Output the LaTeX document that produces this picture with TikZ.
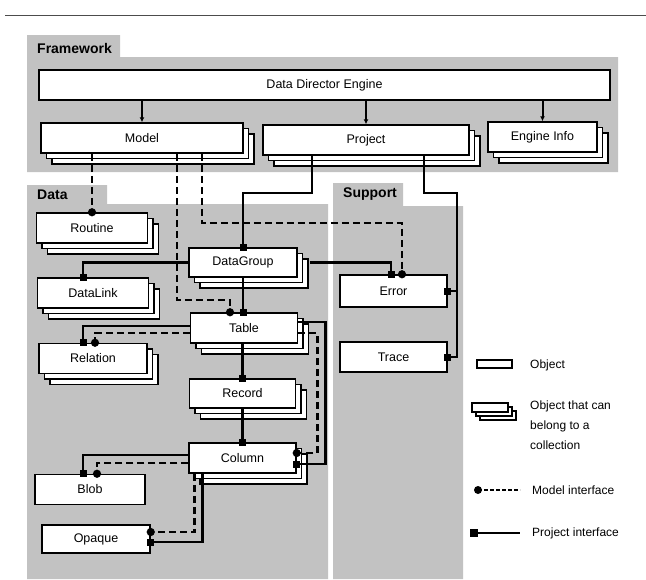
\documentclass[tikz,border=0pt]{standalone}
\usepackage{fontspec}
\setmainfont{Liberation Sans}
\usepackage{tikz}
\usetikzlibrary{arrows.meta}
\usetikzlibrary{shadows}
\usetikzlibrary{positioning}
\newcommand{\boxfont}{\fontsize{12.5}{14}\selectfont}
\newcommand{\tabfont}{\bfseries\fontsize{14}{16}\selectfont}
\tikzset{
    obj/.style={
        rectangle,
        draw=black,
        line width=1.5pt,
        fill=white,
        inner sep=0pt,
        minimum height=30,
        font=\boxfont
    },
    coll/.style={
        obj,
        double copy shadow={shadow xshift=#1pt, shadow yshift=-#1pt,
            draw=black, fill=white, line width=1.2pt}
    },
    coll/.default=5.5,
    panel/.style={
        fill=black!24,
        draw=none
    },
    tablabel/.style={
        anchor=west,
        inner sep=0pt,
        font=\tabfont
    },
    lgtext/.style={
        anchor=west,
        inner sep=0pt,
        align=left,
        font=\fontsize{12}{20}\selectfont
    },
    feed/.style={
        line width=2pt,
        -{Latex[length=5pt,width=5pt]}
    },
    proj/.style={
        line width=2.8pt,
        -{Square[length=7pt,width=7pt]},
        shorten >=-3.5pt
    },
    modl/.style={
        line width=2.8pt,
        dash pattern=on 7pt off 4pt,
        -{Circle[length=8pt]},
        shorten >=-4pt
    }
}

\begin{document}
\begin{tikzpicture}[x=1pt, y=-1pt]
            \useasboundingbox (0,0) rectangle (646,579);

            % Rule on top
            \draw[line width=1pt, black!70] (5,15) -- (646,15);

            % Panels
            \fill[panel] (27,35) -- (120,35) -- (120,57) -- (618,57)
                -- (618,172) -- (27,172) -- cycle;
            \fill[panel] (27,185) -- (107,185) -- (107,204) -- (328,204)
                -- (328,579) -- (27,579) -- cycle;
            \fill[panel] (333,183) -- (403,183) -- (403,206) -- (463,206)
                -- (463,579) -- (333,579) -- cycle;
            \node[tablabel] (fwlabel) at (37,48) {Framework};
            \node[tablabel] (datalabel) at (37,195) {Data};
            \node[tablabel] (suplabel) at (343,194) {Support};

            % Framework
            \node[obj, minimum width=571] (dde) at (324.5,85) {Data Director Engine};
            \node[coll, minimum width=202] (model) at (142,138) {Model};
            \node[coll, minimum width=206] (project) at (366,140) {Project};
            \node[coll, minimum width=109] (engine) at (542.5,137) {Engine Info};

            % Data
            \node[coll, minimum width=111] (routine) at (92,228) {Routine};
            \node[coll, minimum width=111] (datalink) at (93,293) {DataLink};
            \node[coll, minimum width=108] (relation) at (93,358.5) {Relation};
            \node[obj, minimum width=110] (blob) at (90,489.5) {Blob};
            \node[obj, minimum width=108, minimum height=28] (opaque) at (96,539) {Opaque};
            \node[coll, minimum width=108, minimum height=29] (datagroup) at (243,262.5) {DataGroup};
            \node[coll, minimum width=107] (table) at (244,328) {Table};
            \node[coll, minimum width=106, minimum height=29] (record) at (242.5,393.5) {Record};
            \node[coll, minimum width=107] (column) at (242.5,458) {Column};

            % Support
            \node[obj, minimum width=107, minimum height=32] (error) at (393.5,291) {Error};
            \node[obj, minimum width=107] (trace) at (393.5,357) {Trace};

            % Engine to framework objects
            \draw[feed] (dde.south -| model.north) -- (model.north);
            \draw[feed] (dde.south -| project.north) -- (project.north);
            \draw[feed] (dde.south -| engine.north) -- (engine.north);

            % Model interface
            \draw[modl] (routine.north |- model.south) -- (routine.north);
            \draw[modl] ([xshift=35]model.south) -- (177,300) -- (230,300)
                -- ([xshift=-14]table.north);
            \draw[modl] ([xshift=60]model.south) -- (202,223) -- (402,223)
                -- ([xshift=8.5]error.north);
            \draw[modl] ([yshift=-5]table.west) -| ([xshift=2]relation.north);
            \draw[modl] ([yshift=-5]table.east) -- ++(19,0) |- ([yshift=5]column.east);
            \draw[modl] ([yshift=-5]column.west) -| ([xshift=7]blob.north);
            \draw[modl] ([xshift=-48]column.south) |- ([yshift=7]opaque.east);

            % Project interface
            \coordinate (sbus) at (457,193);
            \draw[proj] ([xshift=-54]project.south) -- (312,193) -- (243,193)
                -- (datagroup.north);
            \draw[proj] ([xshift=58]project.south) -- (424,193) -- (sbus) |- (trace.east);
            \draw[proj] (sbus |- error.east) -- (error.east);
            \draw[proj] (datagroup.west) -| ([xshift=-10]datalink.north);
            \draw[proj] ([xshift=12]datagroup.east) -| ([xshift=-2.5]error.north);
            \draw[proj] (datagroup.south) -- (datagroup.south |- table.north);
            \draw[proj] ([yshift=2]table.west) -| ([xshift=-10]relation.north);
            \draw[proj] (record.north |- table.south) -- (record.north);
            \draw[proj] ([yshift=6]table.east) -- ++(27,0) |- ([yshift=-6]column.east);
            \draw[proj] (record.south) -- (record.south |- column.north);
            \draw[proj] ([yshift=3]column.west) -| ([xshift=-7]blob.north);
            \draw[proj] ([xshift=-40]column.south) |- ([yshift=-3]opaque.east);

            % Legend
            \node[obj, minimum width=35, minimum height=8] (lgobj) at (494.5,364) {};
            \node[lgtext] (lgobjtxt) at (530,365) {Object};
            \node[coll=4, minimum width=36, minimum height=9] (lgcoll) at (490,407.5) {};
            \node[lgtext, anchor=north west] (lgcolltxt) at (530,401)
                {Object that can\\belong to a\\collection};
            \fill (478,490) circle (4);
            \draw[line width=1.2pt, dash pattern=on 4pt off 2pt] (478,490) -- (520,490);
            \node[lgtext] (lgmodl) at (532,490) {Model interface};
            \fill (470,529) rectangle (478,537);
            \draw[line width=1.5pt] (474,533) -- (520,533);
            \node[lgtext] (lgproj) at (532,533) {Project interface};
\end{tikzpicture}
\end{document}
